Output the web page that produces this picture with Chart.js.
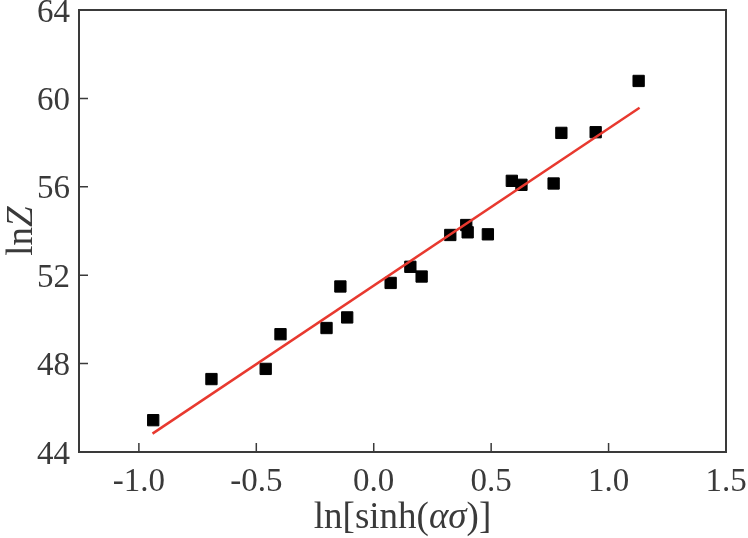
<!DOCTYPE html>
<html>
<head>
<meta charset="utf-8">
<script src="https://cdn.jsdelivr.net/npm/chart.js@4"></script>
<style>
  html, body { margin: 0; padding: 0; background: #ffffff; }
  #wrap { width: 748px; height: 538px; position: relative; }
</style>
</head>
<body>
<div id="wrap"><canvas id="c"></canvas></div>
<script>
// ---- data ----
const lnSinh = [-0.939, -0.691, -0.460, -0.397, -0.201, -0.142, -0.113, 0.072, 0.156, 0.204,
                0.326, 0.394, 0.400, 0.486, 0.588, 0.629, 0.766, 0.799, 0.945, 1.128];
const lnZvals = [45.44, 47.30, 47.76, 49.33, 49.61, 51.49, 50.09, 51.65, 52.38, 51.94,
                 53.82, 54.27, 53.94, 53.85, 56.27, 56.09, 56.15, 58.44, 58.47, 60.79];
const fitX = [-0.942, 1.132];
const fitY = [44.83, 59.58];
const xTickValues = [-1.0, -0.5, 0.0, 0.5, 1.0, 1.5];
const yTickValues = [44, 48, 52, 56, 60, 64];
const xTitleParts = [["ln[sinh(", false], ["ασ", true], [")]", false]];
const yTitleParts = [["ln", false], ["Z", true]];

const FONT = '"Liberation Serif", "Times New Roman", "DejaVu Serif", serif';
const TEXT = '#3a3a3a';
const FRAME = '#3a3a3a';

const scatterPts = lnSinh.map((x, i) => ({ x: x, y: lnZvals[i] }));
const fitPts = fitX.map((x, i) => ({ x: x, y: fitY[i] }));

function drawParts(ctx, parts, size) {
  let total = 0;
  const widths = parts.map(([t, it]) => {
    ctx.font = (it ? 'italic ' : '') + size + 'px ' + FONT;
    const w = ctx.measureText(t).width;
    total += w;
    return w;
  });
  let x = -total / 2;
  parts.forEach(([t, it], i) => {
    ctx.font = (it ? 'italic ' : '') + size + 'px ' + FONT;
    ctx.fillText(t, x, 0);
    x += widths[i];
  });
}

const framePlugin = {
  id: 'frameAndTitles',
  afterDraw(chart) {
    const { ctx, chartArea: a, scales } = chart;
    ctx.save();
    // frame
    ctx.strokeStyle = FRAME;
    ctx.lineWidth = 2;
    ctx.strokeRect(a.left, a.top, a.right - a.left, a.bottom - a.top);
    // inward ticks
    ctx.lineWidth = 1.5;
    ctx.beginPath();
    scales.x.ticks.forEach(t => {
      const px = scales.x.getPixelForValue(t.value);
      if (px > a.left + 2 && px < a.right - 2) {
        ctx.moveTo(px, a.bottom);
        ctx.lineTo(px, a.bottom - 9);
      }
    });
    scales.y.ticks.forEach(t => {
      const py = scales.y.getPixelForValue(t.value);
      if (py > a.top + 2 && py < a.bottom - 2) {
        ctx.moveTo(a.left, py);
        ctx.lineTo(a.left + 9, py);
      }
    });
    ctx.stroke();
    // axis titles with italic symbols
    ctx.fillStyle = TEXT;
    ctx.textBaseline = 'alphabetic';
    ctx.textAlign = 'left';
    ctx.save();
    ctx.translate((a.left + a.right) / 2, chart.height - 10);
    drawParts(ctx, xTitleParts, 37);
    ctx.restore();
    ctx.save();
    ctx.translate(32, (a.top + a.bottom) / 2);
    ctx.rotate(-Math.PI / 2);
    drawParts(ctx, yTitleParts, 37);
    ctx.restore();
    ctx.restore();
  }
};

new Chart(document.getElementById('c'), {
  type: 'scatter',
  data: {
    datasets: [
      {
        label: 'fit',
        data: fitPts,
        showLine: true,
        borderColor: '#e8392f',
        borderWidth: 2.5,
        pointRadius: 0,
        fill: false
      },
      {
        label: 'lnZ',
        data: scatterPts,
        pointStyle: 'rect',
        pointRadius: 8,
        pointHoverRadius: 8,
        backgroundColor: '#000000',
        borderColor: '#000000',
        borderWidth: 1
      }
    ]
  },
  options: {
    responsive: true,
    maintainAspectRatio: false,
    animation: false,
    layout: { padding: { left: 0, top: 10, right: 22, bottom: 0 } },
    plugins: { legend: { display: false }, tooltip: { enabled: false } },
    scales: {
      x: {
        type: 'linear',
        min: -1.255,
        max: 1.5,
        afterBuildTicks: s => { s.ticks = xTickValues.map(v => ({ value: v })); },
        afterFit: s => { s.height = 86; s.paddingLeft = 0; s.paddingRight = 0; },
        grid: { display: false, drawTicks: false },
        border: { display: false },
        ticks: {
          color: TEXT,
          padding: 14,
          font: { family: FONT, size: 33, lineHeight: 1 },
          callback: v => Number(v).toFixed(1)
        },
        title: { display: false }
      },
      y: {
        type: 'linear',
        min: 44,
        max: 64,
        afterBuildTicks: s => { s.ticks = yTickValues.map(v => ({ value: v })); },
        afterFit: s => { s.width = 79; s.paddingTop = 0; s.paddingBottom = 0; },
        grid: { display: false, drawTicks: false },
        border: { display: false },
        ticks: {
          color: TEXT,
          padding: 9,
          labelOffset: 3,
          font: { family: FONT, size: 33, lineHeight: 1 },
          callback: v => String(v)
        },
        title: { display: false }
      }
    }
  },
  plugins: [framePlugin]
});
</script>
</body>
</html>
